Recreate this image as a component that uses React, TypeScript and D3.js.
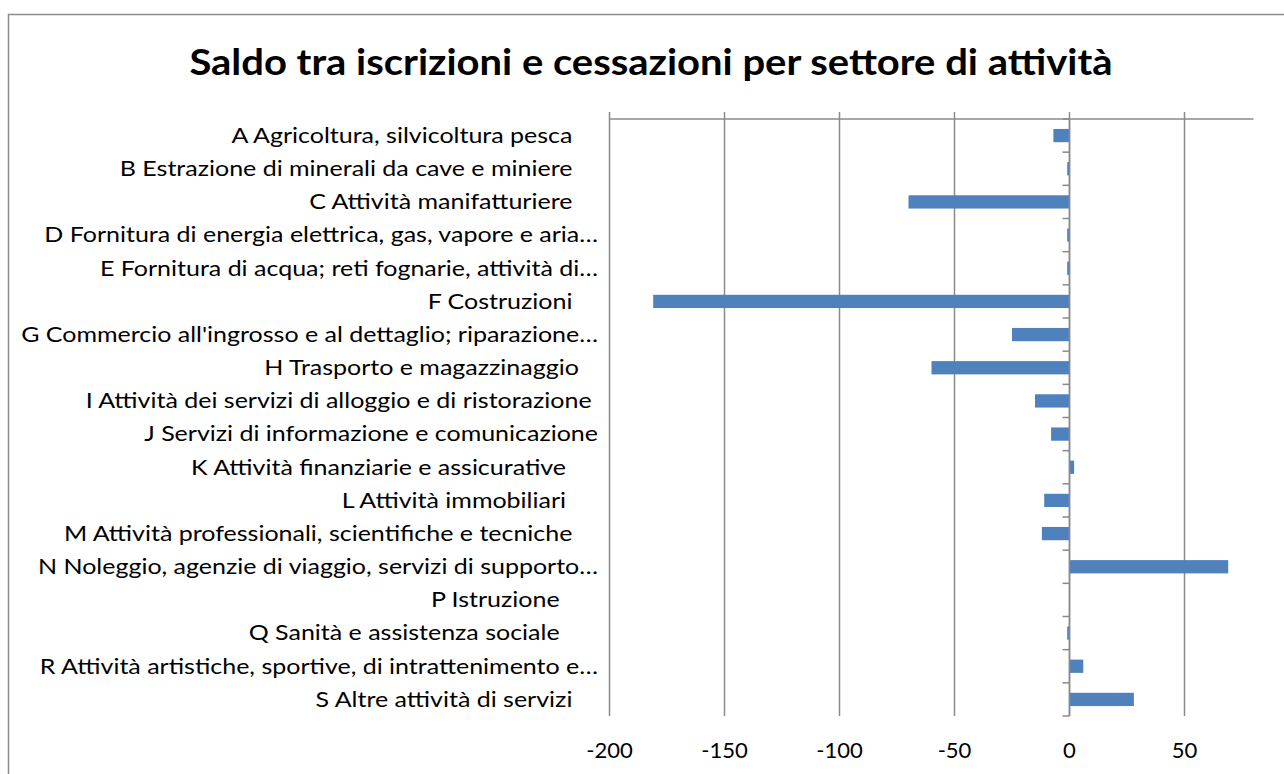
import * as d3 from 'd3';

const categories = [
  'A Agricoltura, silvicoltura pesca    ',
  'B Estrazione di minerali da cave e miniere    ',
  'C Attività manifatturiere    ',
  'D Fornitura di energia elettrica, gas, vapore e aria…',
  'E Fornitura di acqua; reti fognarie, attività di…',
  'F Costruzioni    ',
  "G Commercio all'ingrosso e al dettaglio; riparazione…",
  'H Trasporto e magazzinaggio   ',
  'I Attività dei servizi di alloggio e di ristorazione ',
  'J Servizi di informazione e comunicazione',
  'K Attività finanziarie e assicurative     ',
  'L Attività immobiliari     ',
  'M Attività professionali, scientifiche e tecniche    ',
  'N Noleggio, agenzie di viaggio, servizi di supporto…',
  'P Istruzione      ',
  'Q Sanità e assistenza sociale      ',
  'R Attività artistiche, sportive, di intrattenimento e…',
  'S Altre attività di servizi    ',
];

const saldo = [-7, -1, -70, -1, -1, -181, -25, -60, -15, -8, 2, -11, -12, 69, 0, -1, 6, 28];

const xTicks = [-200, -150, -100, -50, 0, 50];

const title = 'Saldo tra iscrizioni e cessazioni per settore di attività';

const W = 1284;
const H = 774;
const FONT = 'Lato, "Open Sans", sans-serif';
const GRID = '#8a8a8a';
// the source picture is a little stretched sideways, so is the text
const STRETCH = 1.19;

export default function App() {
  const x = d3.scaleLinear().domain([-200, 80]).range([609.5, 1253.5]);
  const y = d3
    .scaleBand<number>()
    .domain(d3.range(categories.length))
    .range([119, 716])
    .paddingInner(0.6)
    .paddingOuter(0.3);

  const step = y.step();
  const top = 119;
  const bottom = 716;
  const x0 = x(0);
  const boundaries = d3.range(categories.length + 1).map((i) => top + i * step);

  return (
    <svg
      width={W}
      height={H}
      style={{ position: 'absolute', left: 0, top: 0, background: '#fff' }}
      fontFamily={FONT}
    >
      {/* chart frame */}
      <rect x={8.5} y={14.5} width={1400} height={900} fill="#fff" stroke="#8c8c8c" strokeWidth={1.5} />

      <text
        transform={`translate(651,75) scale(1.08,1)`}
        textAnchor="middle"
        fontSize={37}
        fontWeight={700}
        fill="#000"
      >
        {title}
      </text>

      {/* vertical gridlines */}
      {xTicks.map((t) => (
        <line key={t} x1={x(t)} x2={x(t)} y1={112} y2={bottom} stroke={GRID} strokeWidth={1.5} />
      ))}
      {/* value axis line on top */}
      <line x1={x(-200)} x2={x(80)} y1={top} y2={top} stroke={GRID} strokeWidth={1.5} />

      {/* bars */}
      {saldo.map((v, i) => (
        <rect
          key={i}
          x={Math.min(x(v), x0)}
          y={y(i)}
          width={Math.abs(x(v) - x0)}
          height={y.bandwidth()}
          fill="#4f81bd"
        />
      ))}

      {/* category axis */}
      <line x1={x0} x2={x0} y1={top} y2={bottom} stroke={GRID} strokeWidth={1.5} />
      {boundaries.map((b, i) => (
        <line key={i} x1={x0 - 7} x2={x0} y1={b} y2={b} stroke={GRID} strokeWidth={1.5} />
      ))}

      {/* category labels */}
      {categories.map((c, i) => (
        <text
          key={c}
          transform={`translate(598,${(y(i) ?? 0) + y.bandwidth() / 2}) scale(${STRETCH},1)`}
          dy="0.35em"
          textAnchor="end"
          fontSize={21}
          fill="#000"
          style={{ whiteSpace: 'pre' }}
        >
          {c}
        </text>
      ))}

      {/* value tick labels */}
      {xTicks.map((t) => (
        <text
          key={t}
          transform={`translate(${x(t)},751) scale(1.05,1)`}
          dy="0.35em"
          textAnchor="middle"
          fontSize={21}
          fill="#000"
        >
          {t}
        </text>
      ))}
    </svg>
  );
}
